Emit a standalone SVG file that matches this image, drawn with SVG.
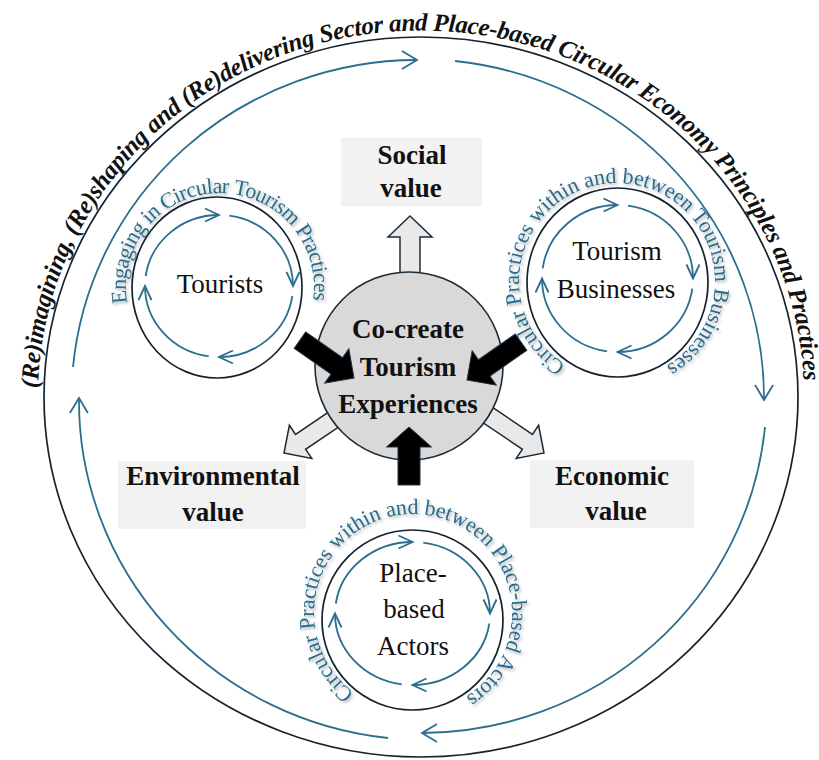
<svg xmlns="http://www.w3.org/2000/svg" width="819" height="760" viewBox="0 0 819 760">
  <defs>
    <style>
      .lbl { font-family: "Liberation Serif", "Times New Roman", serif; font-size: 27px; fill: #111; text-anchor: middle; }
      .b { font-weight: bold; }
      .arc { font-family: "Liberation Serif", "Times New Roman", serif; font-size: 22px; fill: #2a6c8c; }
      .outer { font-family: "Liberation Serif", "Times New Roman", serif; font-size: 25px; font-weight: bold; font-style: italic; fill: #111; }
      .ring { fill: none; stroke: #14222e; stroke-width: 1.7; }
      .flow { fill: none; stroke: #2c6e8e; stroke-width: 1.8; }
      .box { fill: #f2f2f2; }
      .out-arrow { fill: #e9e9e9; stroke: #1c2c38; stroke-width: 1.5; stroke-linejoin: miter; }
      .in-arrow { fill: #000; stroke: #1e3242; stroke-width: 1; }
    </style>
    <marker id="chev-lg" markerUnits="userSpaceOnUse" viewBox="-17 -10 19 20" refX="0" refY="0" markerWidth="19" markerHeight="20" orient="auto" overflow="visible">
      <path d="M -15 -9 L 0 0 L -15 9" fill="none" stroke="#2c6e8e" stroke-width="1.8"/>
    </marker>
    <marker id="chev-sm" markerUnits="userSpaceOnUse" viewBox="-15 -8 17 16" refX="0" refY="0" markerWidth="17" markerHeight="16" orient="auto" overflow="visible">
      <path d="M -14 -6.5 L 0 0 L -14 6.5" fill="none" stroke="#2c6e8e" stroke-width="1.8"/>
    </marker>
    <filter id="soft" x="-10%" y="-10%" width="120%" height="120%">
      <feDropShadow dx="1.5" dy="2" stdDeviation="1.4" flood-color="#000" flood-opacity="0.3"/>
    </filter>
    <!-- baselines for curved captions -->
    <path id="outer-path" d="M 38.1 388.1 A 383 366 0 0 1 803.8 384.8"/>
    <path id="tourists-path" d="M 127.3 302.7 A 94 94 0 1 1 313.1 299.8"/>
    <path id="business-path" d="M 565.8 364.6 A 98 98 0 1 1 663.8 367.1"/>
    <path id="actors-path" d="M 354.3 692.7 A 99 99 0 1 1 464.6 697.5"/>
  </defs>

  <rect width="819" height="760" fill="#fff"/>

  <!-- outer boundary with its caption -->
  <g id="outer-ring">
    <ellipse class="ring" cx="421" cy="397" rx="377" ry="360"/>
    <text class="outer"><textPath href="#outer-path" textLength="1152" lengthAdjust="spacing">(Re)imagining, (Re)shaping and (Re)delivering Sector and Place-based Circular Economy Principles and Practices</textPath></text>
  </g>

  <!-- clockwise cycle inside the boundary -->
  <g id="cycle">
    <path class="flow" marker-end="url(#chev-lg)" d="M 73 367 A 346 339 0 0 1 417 60"/>
    <path class="flow" marker-end="url(#chev-lg)" d="M 455 61 A 346 339 0 0 1 764 400"/>
    <path class="flow" marker-end="url(#chev-lg)" d="M 765 427 A 346 339 0 0 1 422 733"/>
    <path class="flow" marker-end="url(#chev-lg)" d="M 388 738 A 346 339 0 0 1 79 398"/>
  </g>

  <g id="node-tourists">
    <ellipse class="ring" cx="217" cy="287.5" rx="85" ry="90.5"/>
    <path class="flow" marker-end="url(#chev-sm)" d="M 145.7 276.1 A 74 71 0 0 1 219 215"/>
    <path class="flow" marker-end="url(#chev-sm)" d="M 229.3 215.7 A 74 71 0 0 1 293 286"/>
    <path class="flow" marker-end="url(#chev-sm)" d="M 292.3 295.9 A 74 71 0 0 1 219 357"/>
    <path class="flow" marker-end="url(#chev-sm)" d="M 208.7 356.3 A 74 71 0 0 1 145 286"/>
    <text class="lbl" x="220" y="293">Tourists</text>
    <text class="arc" filter="url(#soft)"><textPath href="#tourists-path" textLength="324" lengthAdjust="spacing">Engaging in Circular Tourism Practices</textPath></text>
  </g>

  <g id="node-businesses">
    <ellipse class="ring" cx="617.5" cy="282.5" rx="90.5" ry="94.5"/>
    <path class="flow" marker-end="url(#chev-sm)" d="M 542.7 268.3 A 75.5 73.5 0 0 1 617.5 205"/>
    <path class="flow" marker-end="url(#chev-sm)" d="M 628 205.7 A 75.5 73.5 0 0 1 693 278.5"/>
    <path class="flow" marker-end="url(#chev-sm)" d="M 692.3 288.7 A 75.5 73.5 0 0 1 617.5 352"/>
    <path class="flow" marker-end="url(#chev-sm)" d="M 607 351.3 A 75.5 73.5 0 0 1 542 278.5"/>
    <text class="lbl" x="617" y="260">Tourism</text>
    <text class="lbl" x="616" y="298">Businesses</text>
    <text class="arc" filter="url(#soft)"><textPath href="#business-path" textLength="510" lengthAdjust="spacing">Circular Practices within and between Tourism Businesses</textPath></text>
  </g>

  <g id="node-actors">
    <ellipse class="ring" cx="412.5" cy="620" rx="90.5" ry="90"/>
    <path class="flow" marker-end="url(#chev-sm)" d="M 335.8 603.6 A 77.5 71.5 0 0 1 412.5 542"/>
    <path class="flow" marker-end="url(#chev-sm)" d="M 423.3 542.7 A 77.5 71.5 0 0 1 490 613.5"/>
    <path class="flow" marker-end="url(#chev-sm)" d="M 489.3 623.5 A 77.5 71.5 0 0 1 412.5 685"/>
    <path class="flow" marker-end="url(#chev-sm)" d="M 401.7 684.3 A 77.5 71.5 0 0 1 335 613.5"/>
    <text class="lbl" x="413" y="582">Place-</text>
    <text class="lbl" x="414" y="618">based</text>
    <text class="lbl" x="413" y="655">Actors</text>
    <text class="arc" filter="url(#soft)"><textPath href="#actors-path" textLength="503" lengthAdjust="spacing">Circular Practices within and between Place-based Actors</textPath></text>
  </g>

  <g id="node-social">
    <rect class="box" x="341" y="138" width="141" height="68"/>
    <text class="lbl b" x="412" y="164">Social</text>
    <text class="lbl b" x="411" y="197">value</text>
  </g>

  <g id="node-environmental">
    <rect class="box" x="118" y="461" width="188" height="68"/>
    <text class="lbl b" x="213" y="485">Environmental</text>
    <text class="lbl b" x="213" y="521">value</text>
  </g>

  <g id="node-economic">
    <rect class="box" x="530" y="460" width="164" height="68"/>
    <text class="lbl b" x="612" y="485">Economic</text>
    <text class="lbl b" x="616" y="520">value</text>
  </g>

  <!-- value outputs leaving the centre (drawn beneath it) -->
  <g id="connectors-out">
    <polygon class="out-arrow" transform="translate(410 216) rotate(-90)" points="0,0 -21,-22 -21,-10 -60,-10 -60,10 -21,10 -21,22"/>
    <polygon class="out-arrow" transform="translate(284 453) rotate(146)" points="0,0 -20,-20 -20,-9 -70,-9 -70,9 -20,9 -20,20"/>
    <polygon class="out-arrow" transform="translate(544 453) rotate(34)" points="0,0 -20,-20 -20,-9 -70,-9 -70,9 -20,9 -20,20"/>
  </g>

  <g id="node-center">
    <circle cx="409" cy="366" r="94" fill="#d9d9d9" stroke="#1c2c38" stroke-width="1.6"/>
  </g>

  <!-- contributions flowing into the centre -->
  <g id="connectors-in">
    <polygon class="in-arrow" transform="translate(354 378) rotate(35)" points="0,0 -21,-21 -21,-10 -66,-10 -66,10 -21,10 -21,21"/>
    <polygon class="in-arrow" transform="translate(467 380) rotate(145)" points="0,0 -21,-21 -21,-10 -66,-10 -66,10 -21,10 -21,21"/>
    <polygon class="in-arrow" transform="translate(409 427) rotate(-90)" points="0,0 -20,-22.5 -20,-11 -58,-11 -58,11 -20,11 -20,22.5"/>
  </g>

  <g id="center-label">
    <text class="lbl b" x="408" y="338">Co-create</text>
    <text class="lbl b" x="408" y="376">Tourism</text>
    <text class="lbl b" x="408" y="413">Experiences</text>
  </g>
</svg>
